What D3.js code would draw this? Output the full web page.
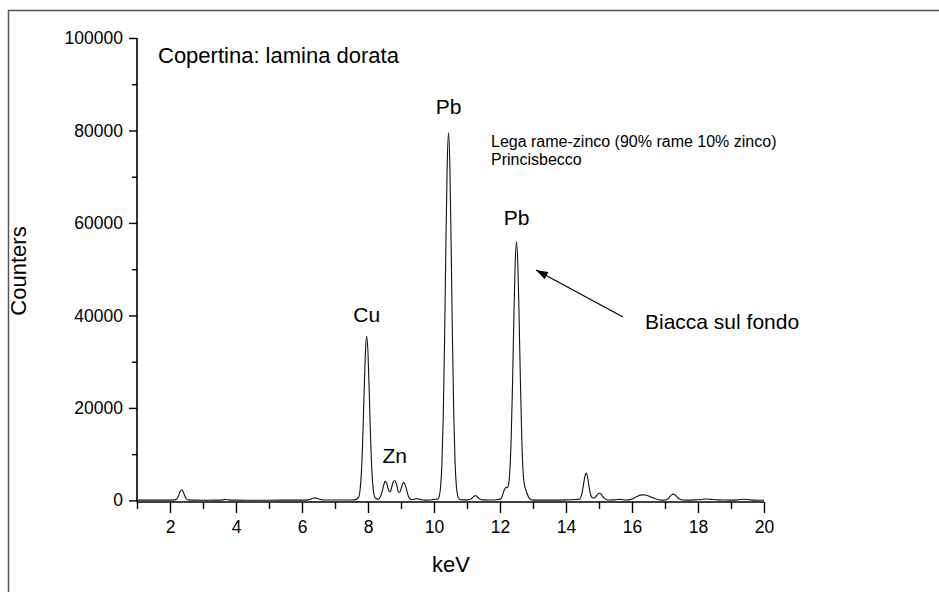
<!DOCTYPE html>
<html>
<head>
<meta charset="utf-8">
<script src="https://cdn.jsdelivr.net/npm/d3@7"></script>
<style>
  html, body { margin: 0; padding: 0; background: #fff; }
  svg { display: block; font-family: "Liberation Sans", Arial, sans-serif; }
</style>
</head>
<body>
<svg id="chart" width="939" height="592"></svg>
<script>
// XRF spectrum: energy (keV) and detector counts
const energy = [
  1.0, 1.5, 2.0, 2.15, 2.2, 2.25, 2.3, 2.35, 2.4, 2.45, 2.5, 2.55, 2.7,
  3.0, 3.5, 3.62, 3.7, 3.78, 3.9, 4.5, 5.0, 5.5, 6.0, 6.2, 6.33, 6.4, 6.47, 6.6, 6.8,
  7.0, 7.3, 7.6, 7.72, 7.76, 7.8, 7.84, 7.88, 7.92, 7.96, 8.0, 8.04, 8.08, 8.12, 8.16, 8.2,
  8.25, 8.3, 8.38, 8.44, 8.48, 8.52, 8.56, 8.61, 8.66, 8.7, 8.75, 8.81, 8.86, 8.91, 8.96,
  9.01, 9.05, 9.09, 9.13, 9.18, 9.23, 9.28, 9.33, 9.4, 9.47, 9.54, 9.62, 9.75, 9.9, 10.05,
  10.12, 10.16, 10.2, 10.24, 10.28, 10.32, 10.36, 10.4, 10.44, 10.48, 10.52, 10.56, 10.6,
  10.64, 10.68, 10.72, 10.76, 10.85, 11.0, 11.12, 11.2, 11.25, 11.3, 11.38, 11.5, 11.7, 11.9,
  12.02, 12.06, 12.1, 12.14, 12.18, 12.22, 12.26, 12.3, 12.34, 12.38, 12.42, 12.46, 12.5,
  12.54, 12.58, 12.62, 12.66, 12.7, 12.74, 12.78, 12.82, 12.86, 12.9, 12.95, 13.0,
  13.5, 14.0, 14.3, 14.41, 14.45, 14.49, 14.53, 14.57, 14.61, 14.65, 14.69, 14.73, 14.77,
  14.82, 14.86, 14.9, 14.95, 15.0, 15.04, 15.09, 15.15, 15.22, 15.3, 15.45, 15.55, 15.62,
  15.7, 15.8, 15.9, 16.0, 16.1, 16.2, 16.3, 16.4, 16.5, 16.6, 16.7, 16.8, 16.9, 17.0, 17.08,
  17.15, 17.2, 17.25, 17.3, 17.37, 17.45, 17.55, 17.7, 17.9, 18.1, 18.25, 18.4, 18.6, 18.8,
  19.0, 19.2, 19.4, 19.55, 19.7, 19.85, 20.0
];
const counts = [
  60, 50, 60, 100, 300, 800, 1800, 2300, 1900, 900, 300, 100, 60,
  40, 50, 120, 200, 110, 50, 40, 40, 50, 60, 120, 450, 550, 400, 120, 80,
  90, 80, 120, 700, 2300, 6000, 13100, 22800, 31800, 35500, 31800, 22800, 13100, 6000, 2300, 800,
  400, 200, 900, 2200, 3400, 4100, 3800, 2600, 1800, 2300, 3700, 4300, 3600, 2100, 1700,
  2700, 3600, 3850, 3300, 2000, 800, 300, 200, 250, 380, 300, 120, 60, 80, 250,
  300, 900, 2900, 7900, 18100, 34600, 54900, 72500, 79500, 72500, 54900, 34600, 18100,
  7900, 2900, 900, 300, 100, 100, 300, 800, 1050, 850, 300, 100, 80, 150,
  300, 800, 1650, 2450, 2750, 2750, 3450, 6560, 13600, 25200, 39300, 51200, 56000,
  51200, 39300, 25200, 13500, 6100, 3400, 2280, 1550, 800, 400, 150, 60,
  60, 100, 200, 250, 700, 1750, 3400, 5100, 5900, 5100, 3400, 1750, 850,
  500, 520, 800, 1250, 1550, 1500, 1100, 550, 200, 80, 100, 180, 220,
  150, 80, 100, 300, 650, 1000, 1200, 1150, 950, 650, 350, 150, 60, 80, 300,
  800, 1200, 1350, 1200, 700, 250, 80, 60, 100, 200, 300, 220, 120, 80,
  60, 120, 250, 150, 50, 40, 40
];

const xTicks = [2, 4, 6, 8, 10, 12, 14, 16, 18, 20];
const xMinorTicks = [1, 3, 5, 7, 9, 11, 13, 15, 17, 19];
const yTicks = [0, 20000, 40000, 60000, 80000, 100000];
const yMinorTicks = [10000, 30000, 50000, 70000, 90000];

// Peak labels: element symbol placed at [keV, counts]
const peakLabels = ["Cu", "Zn", "Pb", "Pb"];
const peakLabelAt = [[7.96, 38500], [8.81, 8000], [10.44, 83500], [12.5, 59500]];

const svg = d3.select("#chart");

// outer frame (top and left edges)
svg.append("path")
  .attr("d", "M8.5,592 V10.5 H939")
  .attr("fill", "none")
  .attr("stroke", "#555")
  .attr("stroke-width", 1.5);

const x = d3.scaleLinear().domain([1, 20]).range([137, 764]);
const y = d3.scaleLinear().domain([-350, 100000]).range([502, 38]);

// x axis with major and minor ticks
const gx = svg.append("g").attr("transform", `translate(0,${y(-350)})`);
gx.call(d3.axisBottom(x).tickValues(xTicks).tickSize(11).tickPadding(8)
  .tickFormat(d3.format("d")));
gx.append("g").call(d3.axisBottom(x).tickValues(xMinorTicks).tickSize(7).tickFormat(""))
  .select(".domain").remove();

// y axis with major and minor ticks
const gy = svg.append("g").attr("transform", `translate(${x(1)},0)`);
gy.call(d3.axisLeft(y).tickValues(yTicks).tickSize(8).tickPadding(6)
  .tickFormat(d3.format("d")));
gy.append("g").call(d3.axisLeft(y).tickValues(yMinorTicks).tickSize(5).tickFormat(""))
  .select(".domain").remove();

svg.selectAll(".domain").attr("stroke-width", 1.6).attr("d", null);
gx.select(".domain").attr("d", `M${x(1)},0H${x(20)}`);
gy.select(".domain").attr("d", `M0,${y(-350)}V${y(100000)}`);
svg.selectAll(".tick line").attr("stroke", "#000").attr("stroke-width", 1.4);
svg.selectAll(".tick text").attr("font-size", 17.5).attr("fill", "#000")
  .attr("font-family", "'Liberation Sans', Arial, sans-serif");

// spectrum line
const pts = energy.map((e, i) => [e, counts[i]]);
svg.append("path")
  .datum(pts)
  .attr("fill", "none")
  .attr("stroke", "#111")
  .attr("stroke-width", 1.1)
  .attr("d", d3.line().x(d => x(d[0])).y(d => y(d[1])).curve(d3.curveMonotoneX));

// axis titles
svg.append("text").attr("x", 451).attr("y", 572).attr("text-anchor", "middle")
  .attr("font-size", 22).text("keV");
svg.append("text").attr("transform", "translate(26,271) rotate(-90)")
  .attr("text-anchor", "middle").attr("font-size", 22).text("Counters");

// peak labels
svg.selectAll(".peak").data(peakLabels).join("text")
  .attr("class", "peak")
  .attr("x", (d, i) => x(peakLabelAt[i][0]))
  .attr("y", (d, i) => y(peakLabelAt[i][1]))
  .attr("text-anchor", "middle")
  .attr("font-size", 21)
  .text(d => d);

// annotations
svg.append("text").attr("x", 158).attr("y", 63).attr("font-size", 22)
  .text("Copertina: lamina dorata");
svg.append("text").attr("x", 491).attr("y", 147).attr("font-size", 16)
  .text("Lega rame-zinco (90% rame 10% zinco)");
svg.append("text").attr("x", 491).attr("y", 165).attr("font-size", 16)
  .text("Princisbecco");
svg.append("text").attr("x", 645).attr("y", 329).attr("font-size", 21)
  .text("Biacca sul fondo");

// arrow pointing at the second Pb peak
svg.append("defs").append("marker")
  .attr("id", "head").attr("viewBox", "0 0 12 8")
  .attr("refX", 12).attr("refY", 4)
  .attr("markerWidth", 12).attr("markerHeight", 8)
  .attr("markerUnits", "userSpaceOnUse")
  .attr("orient", "auto")
  .append("path").attr("d", "M0,0 L12,4 L0,8 Z").attr("fill", "#000");
svg.append("line")
  .attr("x1", 623).attr("y1", 317).attr("x2", 536).attr("y2", 270)
  .attr("stroke", "#000").attr("stroke-width", 1.2)
  .attr("marker-end", "url(#head)");
</script>
</body>
</html>
